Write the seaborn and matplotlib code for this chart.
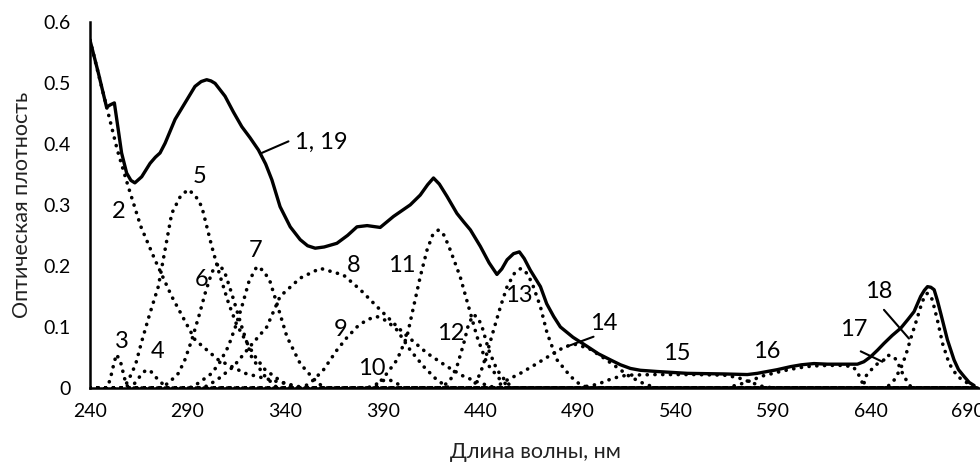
import matplotlib
matplotlib.use("Agg")
import matplotlib.pyplot as plt
import seaborn as sns
import pandas as pd

# ---------------- data ----------------
x_ticks = [240, 290, 340, 390, 440, 490, 540, 590, 640, 690]
y_ticks = [0, 0.1, 0.2, 0.3, 0.4, 0.5, 0.6]
y_tick_labels = ["0", "0.1", "0.2", "0.3", "0.4", "0.5", "0.6"]

# curve 1, 19 (solid)
total_x = [240, 244.3, 248.5, 250.5, 252.5, 254.5, 256.2, 258.8, 261, 263, 266.5, 270.8, 273.5,
           275.9, 278.5, 283.6, 288.7, 293.8, 297, 299.8, 302, 304.1, 309.2, 313.5, 317.8,
           322, 326.3, 330, 333.2, 337.4, 342.6, 347.7, 351.5, 355.4, 360, 366.5, 372,
           376.8, 382, 388.7, 395.5, 404.1, 409.2, 413, 416, 419, 422.9, 428, 431.5, 434.9,
           440, 444.5, 448.5, 451, 453.7, 457, 460, 462.5, 465.6, 470.8, 474, 477.6, 481,
           487.5, 494.8, 500.5, 506.7, 511.8, 516.9, 522, 530.6, 546, 564.8, 576.8, 581.9,
           587, 592.1, 599, 604.5, 610.9, 617.8, 625, 633.2, 636.5, 639.9, 643.5, 646.8,
           651, 655.4, 659, 662.2, 665.6, 667.5, 669.1, 670.8, 672.5, 674.2, 675.9, 679.3,
           682.7, 685, 687.8, 690.5, 693]
total_y = [0.570, 0.516, 0.460, 0.464, 0.467, 0.423, 0.385, 0.352, 0.340, 0.336, 0.346, 0.368,
           0.378, 0.385, 0.401, 0.440, 0.467, 0.494, 0.502, 0.505, 0.503, 0.499, 0.478, 0.452,
           0.428, 0.410, 0.390, 0.367, 0.341, 0.297, 0.264, 0.243, 0.233, 0.229, 0.231, 0.237,
           0.250, 0.264, 0.266, 0.263, 0.281, 0.300, 0.316, 0.333, 0.344, 0.334, 0.314, 0.286,
           0.272, 0.259, 0.232, 0.205, 0.186, 0.195, 0.210, 0.220, 0.223, 0.212, 0.193,
           0.166, 0.138, 0.117, 0.100, 0.083, 0.068, 0.056, 0.046, 0.038, 0.032, 0.029, 0.027,
           0.024, 0.023, 0.022, 0.024, 0.027, 0.030, 0.035, 0.038, 0.040, 0.039, 0.039,
           0.039, 0.043, 0.051, 0.062, 0.073, 0.086, 0.098, 0.112, 0.125, 0.150, 0.160,
           0.166, 0.165, 0.161, 0.143, 0.122, 0.079, 0.046, 0.030, 0.019, 0.009, 0.004]

c2_x = [240, 248.5, 254, 259.6, 266, 273.3, 281.9, 293.8, 305.8, 319.5, 336.6, 350, 695]
c2_y = [0.570, 0.461, 0.390, 0.330, 0.265, 0.210, 0.150, 0.079, 0.046, 0.024, 0.010, 0.0, 0.0]

c3_x = [240, 248.5, 250.3, 251.5, 253.5, 255.5, 257.1, 258.5, 260, 695]
c3_y = [0.0, 0.0, 0.013, 0.030, 0.055, 0.045, 0.024, 0.006, 0.0, 0.0]

c4_x = [240, 260.5, 263, 265.6, 268.5, 271, 273.3, 276.8, 280, 695]
c4_y = [0.0, 0.0, 0.008, 0.019, 0.029, 0.028, 0.019, 0.008, 0.0, 0.0]

c5_x = [240, 256.5, 258.8, 261.4, 263.5, 266.5, 270.5, 275, 281.9, 286.5, 290.4, 294,
        297.3, 302.4, 306.5, 311, 315, 319.5, 324.5, 329.7, 338.3, 345, 695]
c5_y = [0.0, 0.0, 0.008, 0.024, 0.040, 0.076, 0.120, 0.166, 0.286, 0.315, 0.325, 0.315,
        0.297, 0.232, 0.185, 0.139, 0.105, 0.079, 0.052, 0.030, 0.010, 0.0, 0.0]

c6_x = [240, 276, 280.2, 285.3, 288.5, 292.2, 296, 299, 302.5, 305.8, 309, 312.6, 317.8,
        322.9, 329.7, 336, 695]
c6_y = [0.0, 0.0, 0.008, 0.024, 0.045, 0.079, 0.120, 0.155, 0.190, 0.204, 0.190, 0.155,
        0.100, 0.050, 0.019, 0.0, 0.0]

c7_x = [240, 291, 295.6, 302.4, 306.5, 310.9, 314.5, 317.8, 321.5, 325.5, 329, 332.3,
        335.7, 340.9, 347.7, 354.5, 360, 695]
c7_y = [0.0, 0.0, 0.008, 0.024, 0.042, 0.068, 0.100, 0.133, 0.175, 0.199, 0.192, 0.174,
        0.139, 0.084, 0.040, 0.015, 0.0, 0.0]

c8_x = [240, 298, 305, 313.5, 322, 330.6, 337.4, 347.7, 358, 369.9, 378.5, 388.7, 400.7,
        412.7, 423, 431.5, 440, 448, 695]
c8_y = [0.0, 0.0, 0.013, 0.035, 0.068, 0.100, 0.150, 0.180, 0.196, 0.185, 0.161, 0.128,
        0.090, 0.057, 0.035, 0.019, 0.008, 0.0, 0.0]

c9_x = [240, 349, 354.5, 359.7, 366.5, 371.5, 376.8, 382, 387, 392, 397.3, 404.1, 411,
        417.8, 424, 695]
c9_y = [0.0, 0.0, 0.013, 0.030, 0.062, 0.082, 0.100, 0.112, 0.117, 0.110, 0.095, 0.062,
        0.035, 0.013, 0.0, 0.0]

c10_x = [240, 382, 386, 390, 393, 397, 401, 695]
c10_y = [0.0, 0.0, 0.005, 0.012, 0.014, 0.008, 0.0, 0.0]

c11_x = [240, 386, 392.2, 397.3, 402.4, 405.8, 409.2, 412.7, 415.5, 418.6, 421.5, 424.6,
         429.7, 434, 438.3, 443.4, 450.3, 456, 695]
c11_y = [0.0, 0.0, 0.024, 0.046, 0.084, 0.133, 0.182, 0.226, 0.250, 0.259, 0.250, 0.226,
         0.182, 0.133, 0.084, 0.040, 0.013, 0.0, 0.0]

c12_x = [240, 420, 424.6, 428, 431.5, 434, 436.6, 438.8, 440.9, 444.3, 448.5, 453.7, 458, 695]
c12_y = [0.0, 0.0, 0.013, 0.035, 0.073, 0.105, 0.120, 0.115, 0.100, 0.062, 0.030, 0.008, 0.0, 0.0]

c13_x = [240, 436, 440, 443.4, 446.8, 450.3, 453.7, 457.5, 460.8, 463.8, 466.5, 470.8,
         474.2, 479.3, 486.2, 491.3, 496, 695]
c13_y = [0.0, 0.0, 0.024, 0.057, 0.095, 0.133, 0.166, 0.188, 0.196, 0.188, 0.172, 0.133,
         0.090, 0.046, 0.019, 0.005, 0.0, 0.0]

c14_x = [240, 447, 453.7, 460.5, 469, 477.6, 483, 488, 495.5, 502.4, 509.5, 516.4, 523.2,
         530, 695]
c14_y = [0.0, 0.0, 0.013, 0.024, 0.040, 0.057, 0.067, 0.072, 0.065, 0.051, 0.035, 0.019,
         0.008, 0.0, 0.0]

c15_x = [240, 490, 500, 508, 515, 530, 550, 565, 572, 578, 584, 590, 695]
c15_y = [0.0, 0.0, 0.006, 0.016, 0.021, 0.022, 0.022, 0.021, 0.017, 0.010, 0.003, 0.0, 0.0]

c16_x = [240, 566, 575, 585, 595, 603, 610, 618, 625, 631, 633.5, 635.5, 638, 695]
c16_y = [0.0, 0.0, 0.008, 0.020, 0.028, 0.033, 0.036, 0.037, 0.037, 0.035, 0.024, 0.010, 0.0, 0.0]

c17_x = [240, 634, 636.6, 637.4, 641.7, 644, 646.8, 648.5, 651.9, 653.7, 655.4, 657.1,
         658.8, 661, 695]
c17_y = [0.0, 0.0, 0.008, 0.019, 0.035, 0.041, 0.046, 0.054, 0.051, 0.043, 0.030, 0.019,
         0.010, 0.0, 0.0]

c18_x = [240, 648, 652, 655.4, 658, 660.5, 663, 665.6, 667.5, 669, 670.5, 671.6, 674.2,
         676.8, 680.2, 684.4, 689.6, 694, 695]
c18_y = [0.0, 0.0, 0.013, 0.032, 0.054, 0.081, 0.106, 0.133, 0.150, 0.155, 0.152, 0.144,
         0.111, 0.073, 0.040, 0.019, 0.008, 0.0, 0.0]

components = [(c2_x, c2_y), (c3_x, c3_y), (c4_x, c4_y), (c5_x, c5_y), (c6_x, c6_y),
              (c7_x, c7_y), (c8_x, c8_y), (c9_x, c9_y), (c10_x, c10_y), (c11_x, c11_y),
              (c12_x, c12_y), (c13_x, c13_y), (c14_x, c14_y), (c15_x, c15_y),
              (c16_x, c16_y), (c17_x, c17_y), (c18_x, c18_y)]

# curve labels: text, text-centre x, text-centre y
label_texts = ["1, 19", "2", "3", "4", "5", "6", "7", "8", "9", "10", "11", "12", "13",
               "14", "15", "16", "17", "18"]
label_x = [358.5, 254.5, 256.2, 274.7, 296.4, 297.3, 324.6, 375, 368.2, 384.5, 399.8,
           424.6, 459.6, 503.2, 540.8, 587, 631.5, 644.3]
label_y = [0.403, 0.289, 0.076, 0.060, 0.346, 0.177, 0.226, 0.200, 0.095, 0.032, 0.200,
           0.090, 0.152, 0.106, 0.057, 0.060, 0.095, 0.158]

# leader lines: start (x, y), end (x, y)
leader_start = [(341.7, 0.404), (498.0, 0.084), (634.9, 0.060), (646.8, 0.128)]
leader_end = [(328.0, 0.385), (484.4, 0.068), (646.0, 0.043), (659.6, 0.081)]

x_label = "Длина волны, нм"
y_label = "Оптическая плотность"

# ---------------- plotting ----------------
sns.set_theme(style="white")
plt.rcParams["font.family"] = ["Lato", "Open Sans", "DejaVu Sans"]
plt.rcParams["axes.unicode_minus"] = False

fig = plt.figure(figsize=(9.8, 4.72), dpi=100)
ax = fig.add_axes([0.0918, 0.178, 0.9082, 0.776])

for cx, cy in components:
    df = pd.DataFrame({"x": cx, "y": cy})
    sns.lineplot(data=df, x="x", y="y", ax=ax, color="black", estimator=None, sort=False,
                 linewidth=2.6, linestyle=(0, (0.05, 2.1)), dash_capstyle="round")

df_total = pd.DataFrame({"x": total_x, "y": total_y})
sns.lineplot(data=df_total, x="x", y="y", ax=ax, color="black", estimator=None, sort=False,
             linewidth=2.4, solid_capstyle="round", solid_joinstyle="round")

for t, lx, ly in zip(label_texts, label_x, label_y):
    ax.text(lx, ly, t, fontsize=17, ha="center", va="center", color="black")

for s, e in zip(leader_start, leader_end):
    ax.annotate("", xy=e, xytext=s,
                arrowprops=dict(arrowstyle="-", color="black", lw=1.5,
                                shrinkA=0, shrinkB=0))

ax.set_xlim(240, 696)
ax.set_ylim(0, 0.6)
ax.set_xticks(x_ticks)
ax.set_xticklabels([str(v) for v in x_ticks])
ax.set_yticks(y_ticks)
ax.set_yticklabels(y_tick_labels)
ax.tick_params(axis="x", direction="inout", length=9, width=1.6, labelsize=14, pad=6,
               colors="black")
ax.tick_params(axis="y", direction="out", length=7, width=1.6, labelsize=14, pad=7,
               colors="black")
ax.set_xlabel(x_label, fontsize=15.5, labelpad=16, color="#222222")
ax.set_ylabel(y_label, fontsize=15.5, labelpad=8, color="#222222")

sns.despine(ax=ax)
for sp in ("left", "bottom"):
    ax.spines[sp].set_color("black")
    ax.spines[sp].set_linewidth(1.8)
ax.grid(False)
ax.set_facecolor("white")
fig.patch.set_facecolor("white")

fig.savefig("out.png", dpi=100, facecolor="white")
